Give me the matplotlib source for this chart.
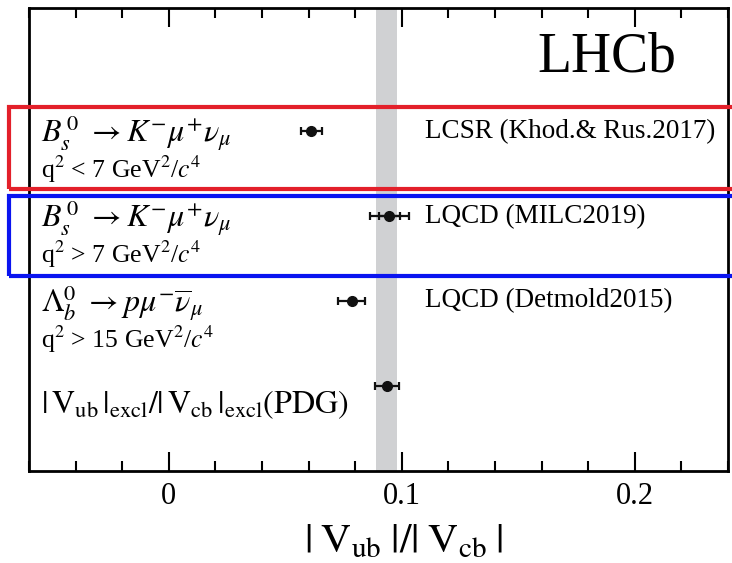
import matplotlib.pyplot as plt
from matplotlib.patches import Rectangle
from matplotlib.ticker import MultipleLocator

plt.rcParams['font.family'] = ['Liberation Serif', 'DejaVu Serif']
plt.rcParams['mathtext.fontset'] = 'stix'

# |Vub|/|Vcb| predictions, top to bottom
ypos = [4, 3, 2, 1]
values = [0.0612, 0.0946, 0.0786, 0.0936]
err_stat = [0.0044, 0.0046, 0.0058, 0.0050]
err_tot = [0.0044, 0.0083, 0.0058, 0.0050]
decays = [r'$B^{\,\mathit{0}}_{s}\ \rightarrow K^{-}\mu^{+}\nu_{\mu}$',
          r'$B^{\,\mathit{0}}_{s}\ \rightarrow K^{-}\mu^{+}\nu_{\mu}$',
          r'$\Lambda^{\mathit{0}}_{b}\ \rightarrow p\mu^{-}\overline{\nu}_{\mu}$',
          r'$|\,\mathrm{V}_{\mathrm{ub}}\,|_{\mathrm{excl}}/|\,\mathrm{V}_{\mathrm{cb}}\,|_{\mathrm{excl}}\mathrm{(PDG)}$']
q2_cuts = [r'q$^2$ < 7 GeV$^2$/$c^4$', r'q$^2$ > 7 GeV$^2$/$c^4$',
           r'q$^2$ > 15 GeV$^2$/$c^4$', '']
sources = ['LCSR (Khod.& Rus.2017)', 'LQCD (MILC2019)', 'LQCD (Detmold2015)', '']

# LHCb measurement band
band_lo, band_hi = 0.0891, 0.0981

fig = plt.figure(figsize=(7.32, 5.63), dpi=100)
ax = fig.add_axes([29 / 732, 1 - 471 / 563, 699 / 732, 463 / 563])

ax.axvspan(band_lo, band_hi, color='#d0d1d3', lw=0, zorder=0)

for y, v, es, et in zip(ypos, values, err_stat, err_tot):
    ax.errorbar(v, y, xerr=et, fmt='o', color='#111111', ms=7, elinewidth=1.6,
                capsize=3, capthick=1.6, zorder=3)
    if et > es:
        ax.errorbar(v, y, xerr=es, fmt='none', color='#111111', elinewidth=1.6,
                    capsize=3, capthick=1.6, zorder=3)

for y, d, q, s in zip(ypos, decays, q2_cuts, sources):
    if q:
        ax.text(-0.055, y - 0.02, d, fontsize=23, va='center', ha='left')
        ax.text(-0.055, y - 0.45, q, fontsize=18.5, va='center', ha='left')
    else:
        ax.text(-0.055, y - 0.22, d, fontsize=23, va='center', ha='left')
    if s:
        ax.text(0.110, y, s, fontsize=19.5, va='center', ha='left')

ax.text(0.218, 4.87, 'LHCb', fontsize=40, ha='right', va='center')

ax.set_xlim(-0.06, 0.24)
ax.set_ylim(0, 5.45)
ax.xaxis.set_major_locator(MultipleLocator(0.1))
ax.xaxis.set_minor_locator(MultipleLocator(0.02))
ax.xaxis.set_major_formatter(plt.FuncFormatter(lambda v, p: '0' if abs(v) < 1e-9 else f'{v:g}'))
ax.tick_params(axis='x', which='both', direction='in', top=True, bottom=True,
               labelsize=22, pad=8, width=1.5)
ax.tick_params(axis='x', which='major', length=14)
ax.tick_params(axis='x', which='minor', length=7)
ax.set_yticks([])
for sp in ax.spines.values():
    sp.set_linewidth(2)
ax.set_xlabel(r'$|\;\mathrm{V}_{\mathrm{ub}}\;|/|\;\mathrm{V}_{\mathrm{cb}}\;|$', fontsize=30)
ax.xaxis.set_label_coords(0.536, -0.112, transform=ax.transAxes)
ax.xaxis.label.set_va('top')

# highlight boxes around the B_s rows
fig.add_artist(Rectangle((9 / 732, 1 - 189 / 563), 740 / 732, 82 / 563,
                         transform=fig.transFigure, fill=False, ec='#e3202a', lw=3,
                         clip_on=False))
fig.add_artist(Rectangle((9 / 732, 1 - 276 / 563), 740 / 732, 80 / 563,
                         transform=fig.transFigure, fill=False, ec='#0a14f0', lw=3,
                         clip_on=False))

fig.savefig('out.png', dpi=100)
